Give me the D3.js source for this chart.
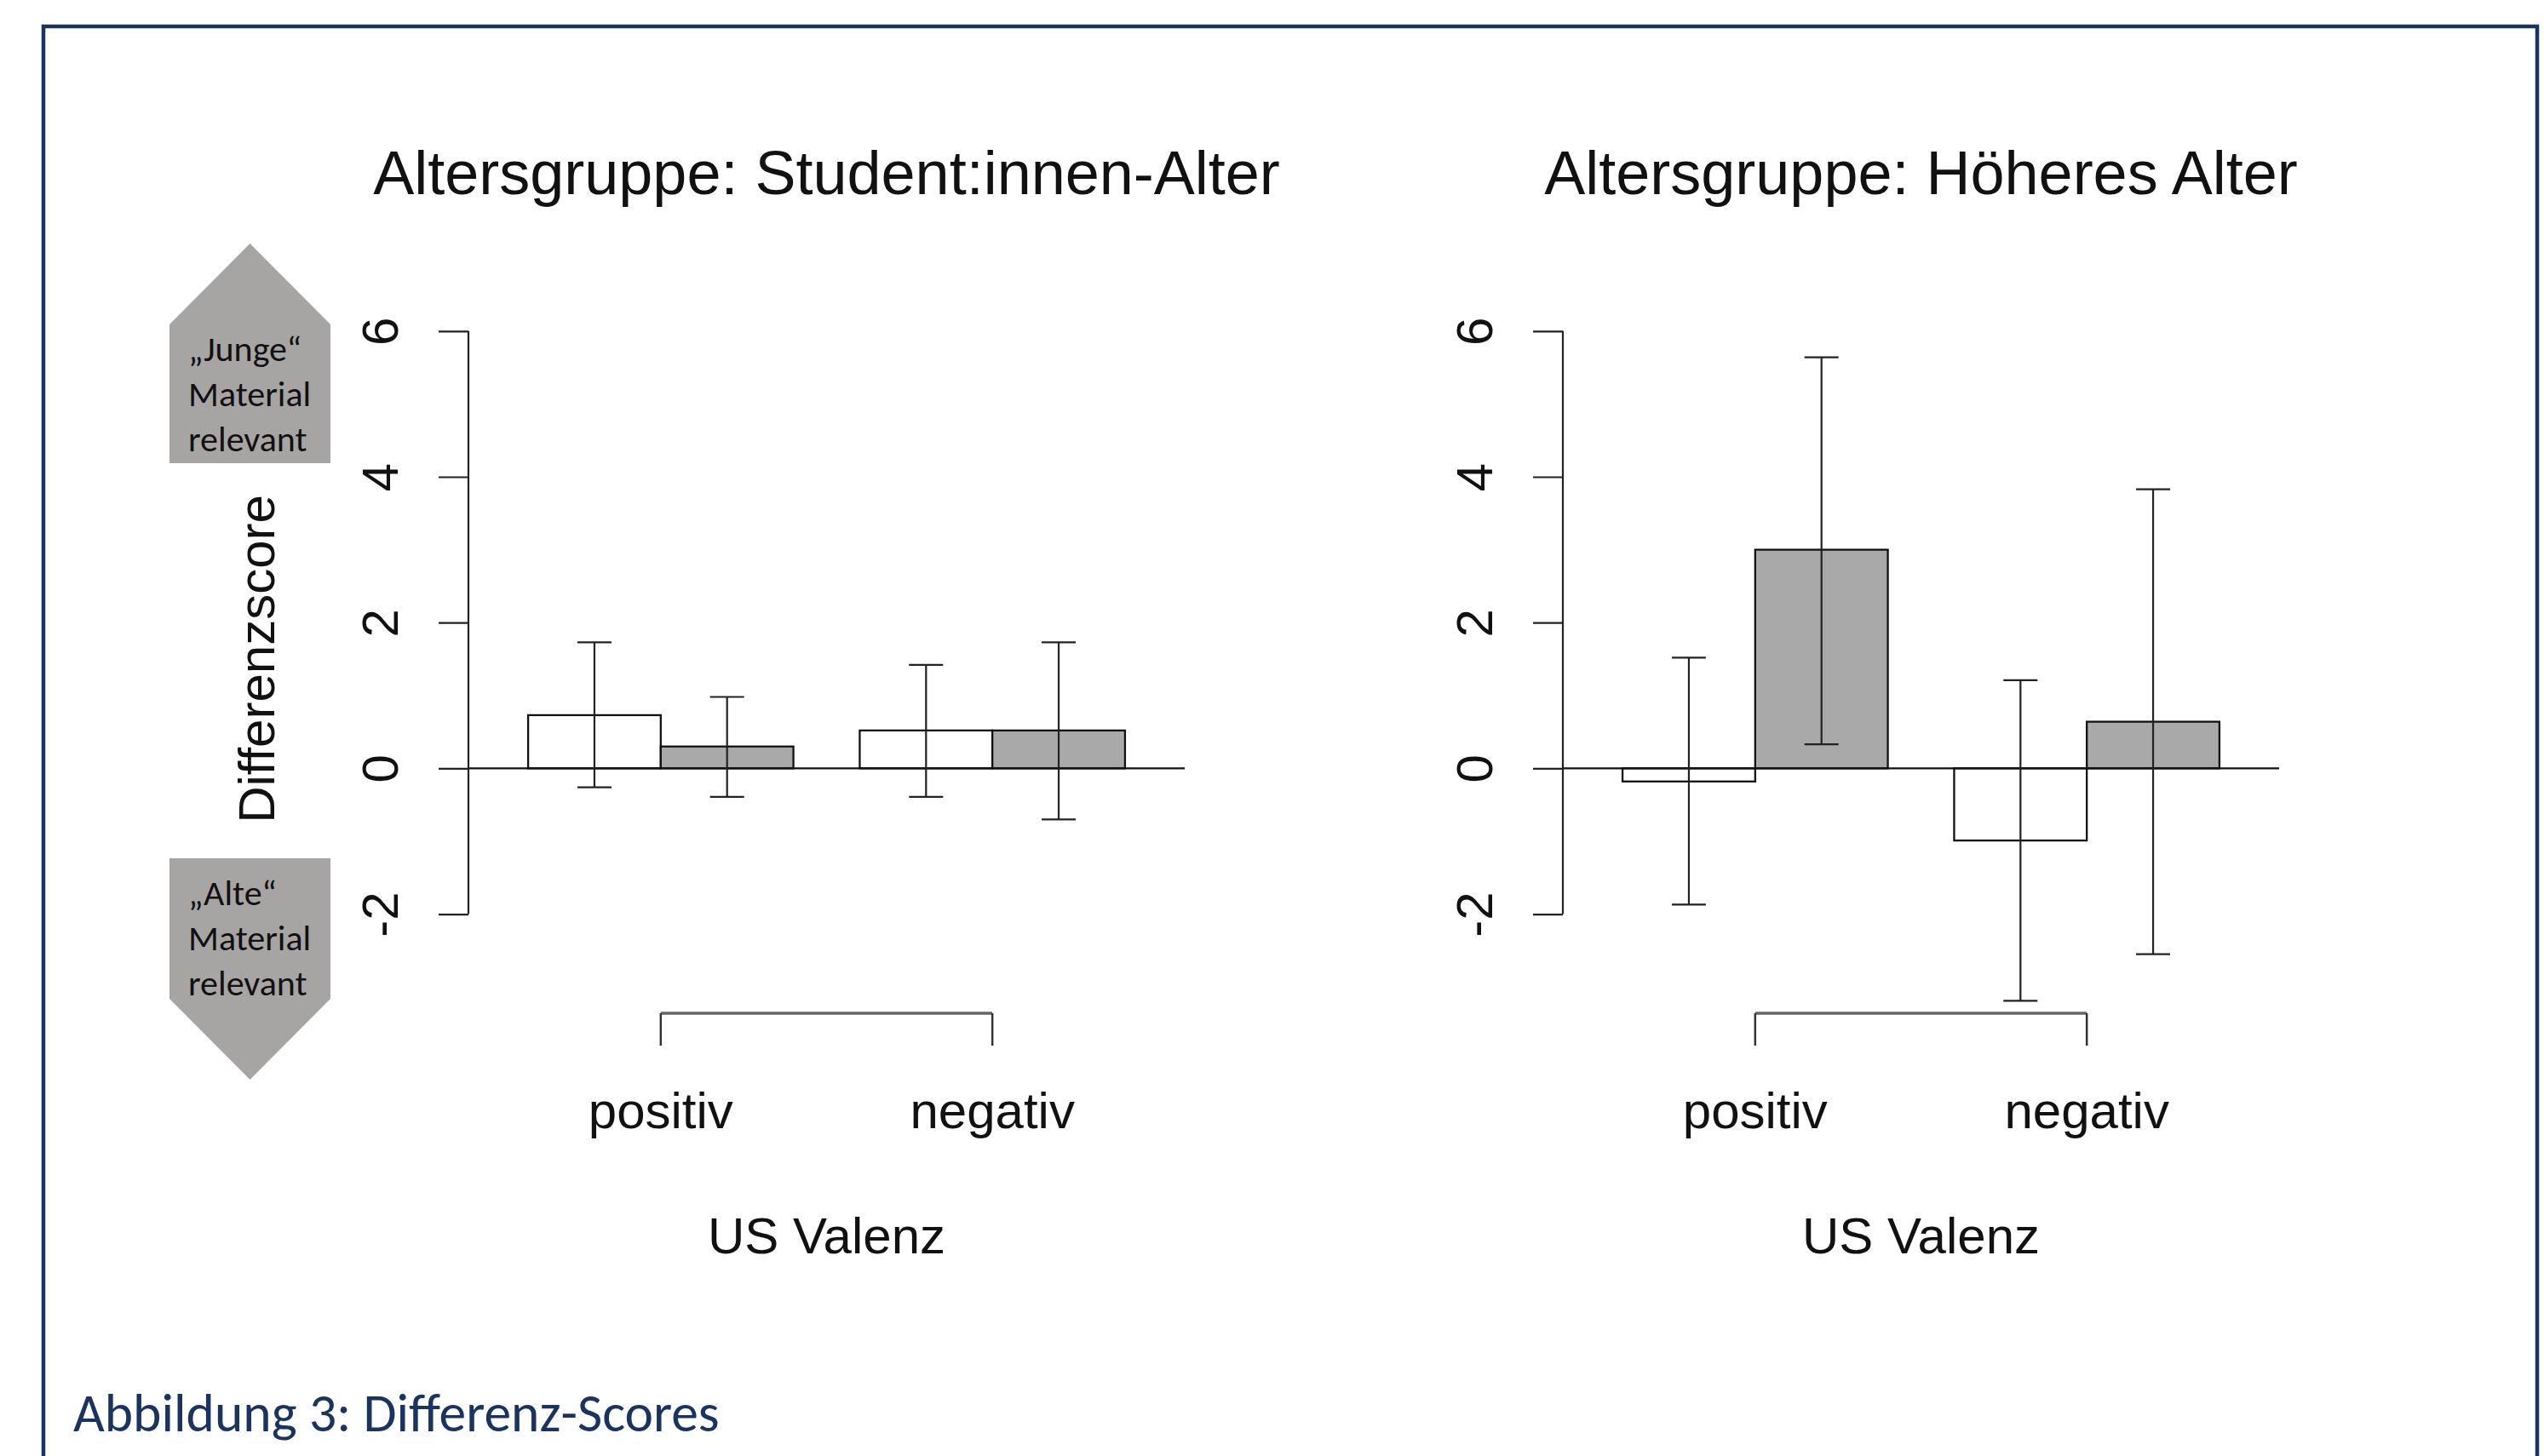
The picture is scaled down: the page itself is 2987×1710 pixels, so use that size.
<!DOCTYPE html>
<html><head><meta charset="utf-8">
<script src="https://cdn.jsdelivr.net/npm/d3@7"></script>
<style>
html,body{margin:0;padding:0;background:#fff;}
svg{display:block;}
</style></head>
<body><svg id="chart" width="2987" height="1710"></svg>
<script>
// ---------- data ----------
const categories = ["positiv", "negativ"];
const seriesNames = ["weiß", "grau"];
const panelTitles = ["Altersgruppe: Student:innen-Alter", "Altersgruppe: Höheres Alter"];
// values indexed [category][series]
const meansStudent = [[0.73, 0.30], [0.52, 0.52]];
const lowStudent   = [[-0.26, -0.39], [-0.39, -0.70]];
const highStudent  = [[1.73, 0.98], [1.42, 1.73]];
const meansOlder   = [[-0.18, 3.00], [-0.99, 0.64]];
const lowOlder     = [[-1.87, 0.33], [-3.19, -2.55]];
const highOlder    = [[1.52, 5.64], [1.21, 3.83]];
const yTicks = [-2, 0, 2, 4, 6];
const yTickLabels = ["-2", "0", "2", "4", "6"];
const yLimits = [-3, 6];
const xAxisTitle = "US Valenz";
const yAxisTitle = "Differenzscore";
const upperNote = ["„Junge“", "Material", "relevant"];
const lowerNote = ["„Alte“", "Material", "relevant"];
const caption = "Abbildung 3: Differenz-Scores";

// ---------- layout / style ----------
const W = 2987, H = 1710;
const plotTop = 358, plotBottom = 1190, plotW = 841;
const panelLeft = [550, 1835];
const seriesFill = ["#ffffff", "#a9a9a9"];
const rFont = "'Liberation Sans', Arial, Helvetica, sans-serif";
const noteFont = "Carlito, Calibri, Lato, sans-serif";
const navy = "#1a3461";

const svg = d3.select("#chart");
svg.append("rect").attr("width", W).attr("height", H).attr("fill", "#fff");

// frame
svg.append("path")
  .attr("d", `M51,${H + 10}V31H2979V${H + 10}`)
  .attr("fill", "none").attr("stroke", navy).attr("stroke-width", 4.5);

const pad = 0.04 * (yLimits[1] - yLimits[0]);
const y = d3.scaleLinear()
  .domain([yLimits[0] - pad, yLimits[1] + pad])
  .range([plotBottom, plotTop]);

const panels = [
  {title: panelTitles[0], means: meansStudent, low: lowStudent, high: highStudent, ylab: true},
  {title: panelTitles[1], means: meansOlder, low: lowOlder, high: highOlder, ylab: false}
];

panels.forEach((p, pi) => {
  const g = svg.append("g").attr("transform", `translate(${panelLeft[pi]},0)`);
  const xg = d3.scaleBand().domain(categories).range([0, plotW])
    .paddingInner(0.2).paddingOuter(0.18);
  const xs = d3.scaleBand().domain(seriesNames).range([0, xg.bandwidth()]);

  const rows = [];
  categories.forEach((c, ci) => seriesNames.forEach((s, si) => {
    rows.push({c, s, si, v: p.means[ci][si], lo: p.low[ci][si], hi: p.high[ci][si]});
  }));

  // bars
  g.selectAll("rect.bar").data(rows).join("rect").attr("class", "bar")
    .attr("x", d => xg(d.c) + xs(d.s))
    .attr("width", xs.bandwidth())
    .attr("y", d => y(Math.max(0, d.v)))
    .attr("height", d => Math.abs(y(d.v) - y(0)))
    .attr("fill", d => seriesFill[d.si])
    .attr("stroke", "#111").attr("stroke-width", 2.3);

  // zero line
  g.append("line").attr("x1", 0).attr("x2", plotW)
    .attr("y1", y(0)).attr("y2", y(0))
    .attr("stroke", "#111").attr("stroke-width", 2.2);

  // error bars
  const cx = d => xg(d.c) + xs(d.s) + xs.bandwidth() / 2;
  const eb = g.selectAll("g.err").data(rows).join("g").attr("class", "err")
    .attr("stroke", "#222").attr("stroke-width", 2.2);
  eb.append("line").attr("x1", cx).attr("x2", cx)
    .attr("y1", d => y(d.lo)).attr("y2", d => y(d.hi));
  eb.append("line").attr("x1", d => cx(d) - 20).attr("x2", d => cx(d) + 20)
    .attr("y1", d => y(d.hi)).attr("y2", d => y(d.hi));
  eb.append("line").attr("x1", d => cx(d) - 20).attr("x2", d => cx(d) + 20)
    .attr("y1", d => y(d.lo)).attr("y2", d => y(d.lo));

  // y axis
  const ya = g.append("g").call(d3.axisLeft(y).tickValues(yTicks)
    .tickFormat((d, i) => yTickLabels[i]).tickSize(35).tickSizeOuter(0));
  ya.select(".domain").attr("d", `M0,${y(d3.min(yTicks))}V${y(d3.max(yTicks))}`)
    .attr("stroke", "#222").attr("stroke-width", 2.2);
  ya.selectAll(".tick line").attr("stroke", "#222").attr("stroke-width", 2.2);
  ya.selectAll(".tick text")
    .attr("x", null).attr("dy", null)
    .attr("transform", "translate(-83,0) rotate(-90)")
    .attr("text-anchor", "middle")
    .attr("font-family", rFont).attr("font-size", 60).attr("fill", "#111");
  ya.attr("font-family", null).attr("font-size", null);

  // x axis bracket
  const gc = c => xg(c) + xg.bandwidth() / 2;
  g.append("line")
    .attr("x1", gc(categories[0])).attr("x2", gc(categories[categories.length - 1]))
    .attr("y1", plotBottom).attr("y2", plotBottom)
    .attr("stroke", "#666").attr("stroke-width", 3.5);
  g.selectAll("line.xt").data(categories).join("line").attr("class", "xt")
    .attr("x1", gc).attr("x2", gc)
    .attr("y1", plotBottom).attr("y2", plotBottom + 38)
    .attr("stroke", "#333").attr("stroke-width", 2.5);
  g.selectAll("text.xl").data(categories).join("text").attr("class", "xl")
    .attr("x", gc).attr("y", plotBottom + 135)
    .attr("text-anchor", "middle")
    .attr("font-family", rFont).attr("font-size", 60).attr("fill", "#111")
    .text(d => d);

  // axis title
  g.append("text").attr("x", plotW / 2).attr("y", plotBottom + 282)
    .attr("text-anchor", "middle")
    .attr("font-family", rFont).attr("font-size", 60).attr("fill", "#111")
    .text(xAxisTitle);

  // main title
  g.append("text").attr("x", plotW / 2).attr("y", plotTop - 130)
    .attr("text-anchor", "middle")
    .attr("font-family", rFont).attr("font-size", 72).attr("fill", "#111")
    .text(p.title);

  if (p.ylab) {
    g.append("text")
      .attr("transform", `translate(-228,${(plotTop + plotBottom) / 2}) rotate(-90)`)
      .attr("text-anchor", "middle")
      .attr("font-family", rFont).attr("font-size", 60).attr("fill", "#111")
      .text(yAxisTitle);
  }
});

// side annotation arrows
const arrowFill = "#a7a4a4";
const aL = 199, aR = 388, aC = (aL + aR) / 2;
svg.append("path")
  .attr("d", `M${aL},544V381L${aC},286L${aR},381V544Z`)
  .attr("fill", arrowFill);
svg.append("path")
  .attr("d", `M${aL},1008H${aR}V1173L${aC},1268L${aL},1173Z`)
  .attr("fill", arrowFill);

function note(lines, baseY) {
  svg.append("g").selectAll("text").data(lines).join("text")
    .attr("x", 221).attr("y", (d, i) => baseY + i * 53)
    .attr("font-family", noteFont).attr("font-size", 42).attr("fill", "#111")
    .text(d => d);
}
note(upperNote, 424);
note(lowerNote, 1063);

// caption
svg.append("text").attr("x", 86).attr("y", 1681)
  .attr("font-family", noteFont).attr("font-size", 63.5).attr("fill", navy)
  .text(caption);
</script>
</body></html>
